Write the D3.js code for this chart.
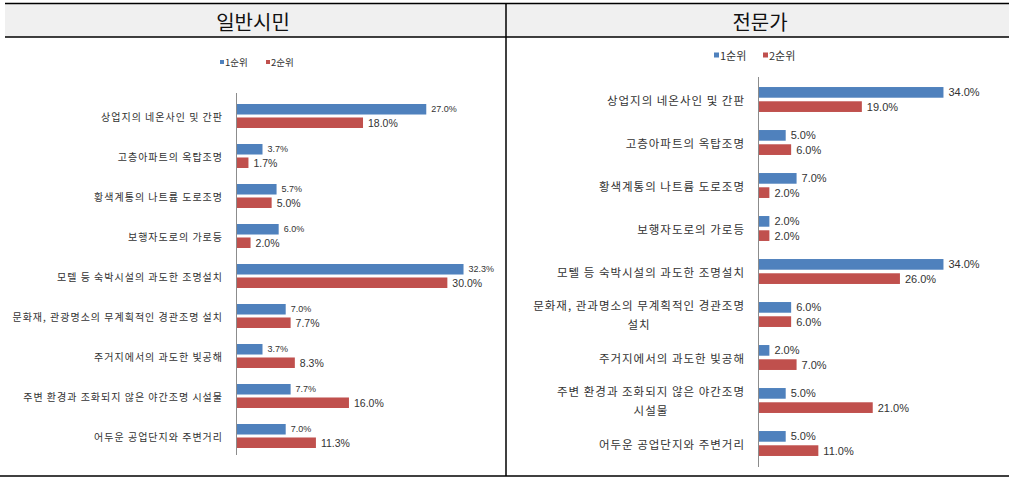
<!DOCTYPE html>
<html>
<head>
<meta charset="utf-8">
<script src="https://cdn.jsdelivr.net/npm/d3@7"></script>
<style>
body { margin: 0; background: #fff; }
text { font-family: "Noto Sans CJK KR", "Noto Sans", sans-serif; }
</style>
</head>
<body>
<div id="chart"></div>
<script>
// categories and values
var citizenCats = ["상업지의 네온사인 및 간판", "고층아파트의 옥탑조명", "황색계통의 나트륨 도로조명",
  "보행자도로의 가로등", "모텔 등 숙박시설의 과도한 조명설치", "문화재, 관광명소의 무계획적인 경관조명 설치",
  "주거지에서의 과도한 빛공해", "주변 환경과 조화되지 않은 야간조명 시설물", "어두운 공업단지와 주변거리"];
var citizenRank1 = [27.0, 3.7, 5.7, 6.0, 32.3, 7.0, 3.7, 7.7, 7.0];
var citizenRank2 = [18.0, 1.7, 5.0, 2.0, 30.0, 7.7, 8.3, 16.0, 11.3];

var expertCats = [["상업지의 네온사인 및 간판"], ["고층아파트의 옥탑조명"], ["황색계통의 나트륨 도로조명"],
  ["보행자도로의 가로등"], ["모텔 등 숙박시설의 과도한 조명설치"], ["문화재, 관과명소의 무계획적인 경관조명", "설치"],
  ["주거지에서의 과도한 빛공해"], ["주변 환경과 조화되지 않은 야간조명", "시설물"], ["어두운 공업단지와 주변거리"]];
var expertRank1 = [34.0, 5.0, 7.0, 2.0, 34.0, 6.0, 2.0, 5.0, 5.0];
var expertRank2 = [19.0, 6.0, 2.0, 2.0, 26.0, 6.0, 7.0, 21.0, 11.0];

var seriesNames = ["1순위", "2순위"];
var titles = ["일반시민", "전문가"];
var colors = ["#4f81bd", "#c0504d"];

var svg = d3.select("#chart").append("svg")
  .attr("width", 1016)
  .attr("height", 482);

// table frame
svg.append("rect")
  .attr("x", 5).attr("y", 4)
  .attr("width", 1004).attr("height", 33)
  .attr("fill", "#f0f0f0");

var frame = svg.append("g").attr("stroke", "#000").attr("stroke-width", 1.5);
frame.append("line").attr("x1", 5).attr("x2", 1009).attr("y1", 3.5).attr("y2", 3.5);
frame.append("line").attr("x1", 5).attr("x2", 1009).attr("y1", 37).attr("y2", 37);
frame.append("line").attr("x1", 0).attr("x2", 1009).attr("y1", 476).attr("y2", 476);
frame.append("line").attr("x1", 506).attr("x2", 506).attr("y1", 3.5).attr("y2", 476);

svg.append("text").attr("x", 253).attr("y", 21)
  .attr("text-anchor", "middle").attr("dominant-baseline", "central")
  .attr("font-size", "20px").attr("fill", "#111").text(titles[0]);
svg.append("text").attr("x", 760).attr("y", 21)
  .attr("text-anchor", "middle").attr("dominant-baseline", "central")
  .attr("font-size", "20px").attr("fill", "#111").text(titles[1]);

function drawPanel(opt) {
  var g = svg.append("g");
  var data = opt.cats.map(function(c, i) {
    return {cat: c, vals: [opt.v1[i], opt.v2[i]], i: i};
  });

  var y = d3.scaleBand()
    .domain(d3.range(opt.cats.length))
    .range(opt.yRange)
    .paddingInner(opt.pad)
    .paddingOuter(opt.pad / 2);

  var ySub = d3.scaleBand()
    .domain([0, 1])
    .range([0, y.bandwidth()])
    .paddingInner(opt.subPad);

  var x = d3.scaleLinear()
    .domain([0, opt.max])
    .range(opt.xRange);

  // bars
  var groups = g.selectAll(".grp")
    .data(data)
    .enter()
    .append("g")
    .attr("transform", function(d) { return "translate(0," + y(d.i) + ")"; });

  groups.selectAll("rect")
    .data(function(d) { return d.vals; })
    .enter()
    .append("rect")
    .attr("x", x(0))
    .attr("y", function(d, j) { return ySub(j); })
    .attr("width", function(d) { return x(d) - x(0); })
    .attr("height", ySub.bandwidth())
    .attr("fill", function(d, j) { return colors[j]; });

  groups.selectAll(".val")
    .data(function(d) { return d.vals; })
    .enter()
    .append("text")
    .attr("x", function(d) { return x(d) + 5; })
    .attr("y", function(d, j) { return ySub(j) + ySub.bandwidth() / 2; })
    .attr("dominant-baseline", "central")
    .style("font-family", "'Liberation Sans', Arial, sans-serif")
    .attr("font-size", function(d, j) { return opt.valSize[j]; })
    .attr("fill", "#333")
    .text(function(d) { return d.toFixed(1) + "%"; });

  // axis line
  g.append("line")
    .attr("x1", x(0)).attr("x2", x(0))
    .attr("y1", opt.axisY[0]).attr("y2", opt.axisY[1])
    .attr("stroke", "#8c8c8c").attr("stroke-width", 1);

  // category labels
  data.forEach(function(d) {
    var lines = Array.isArray(d.cat) ? d.cat : [d.cat];
    var cy = y(d.i) + y.bandwidth() / 2;
    var t = g.append("text")
      .attr("font-size", opt.labelSize)
      .attr("letter-spacing", "1px")
      .attr("fill", "#333")
      .attr("text-anchor", "middle");
    lines.forEach(function(l, k) {
      t.append("tspan")
        .attr("y", cy + (k - (lines.length - 1) / 2) * opt.lineH)
        .attr("dominant-baseline", "central")
        .text(l);
    });
    var w = d3.max(t.selectAll("tspan").nodes(), function(n) { return n.getComputedTextLength(); });
    t.selectAll("tspan").attr("x", opt.labelRight - w / 2);
  });

  // legend
  var lg = g.append("g");
  seriesNames.forEach(function(s, j) {
    var lx = opt.legendX[j];
    lg.append("rect")
      .attr("x", lx).attr("y", opt.legendY - opt.legendSq / 2)
      .attr("width", opt.legendSq).attr("height", opt.legendSq)
      .attr("fill", colors[j]);
    lg.append("text")
      .attr("x", lx + opt.legendSq + 1).attr("y", opt.legendY)
      .attr("dominant-baseline", "central")
      .attr("font-size", opt.legendSize)
      .attr("fill", "#333")
      .text(s);
  });
}

drawPanel({
  cats: citizenCats, v1: citizenRank1, v2: citizenRank2,
  yRange: [96, 456], pad: 0.4, subPad: 0.22, max: 35, xRange: [236.5, 482.5],
  axisY: [93, 455], valSize: ["9px", "10.5px"], labelSize: "10px",
  labelRight: 223, lineH: 14,
  legendX: [220, 266], legendY: 62, legendSq: 4, legendSize: "9.5px"
});

drawPanel({
  cats: expertCats, v1: expertRank1, v2: expertRank2,
  yRange: [78, 465], pad: 0.42, subPad: 0.25, max: 40, xRange: [758.5, 976.1],
  axisY: [77, 467], valSize: ["11px", "11px"], labelSize: "11.5px",
  labelRight: 745, lineH: 18.5,
  legendX: [714, 763], legendY: 55, legendSq: 5, legendSize: "11px"
});
</script>
</body>
</html>
